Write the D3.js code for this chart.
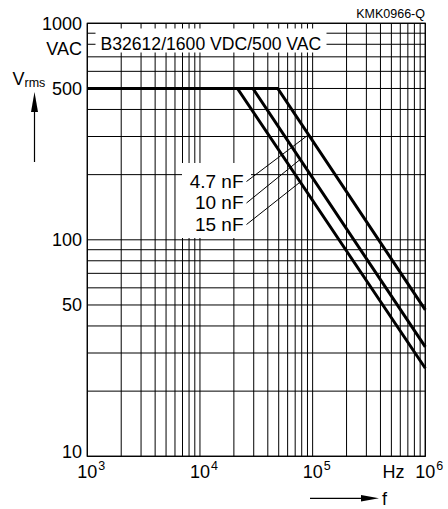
<!DOCTYPE html>
<html><head><meta charset="utf-8">
<script src="https://cdn.jsdelivr.net/npm/d3@7"></script>
<style>body{margin:0;background:#fff} svg{display:block} text{font-family:"Liberation Sans",Arial,sans-serif;fill:#000}</style>
</head><body><svg id="c" width="448" height="509"></svg>
<script>
// ---- data ----
const xTickValues = [1e3, 1e4, 1e5, 1e6];
const xTickExponents = ["3", "4", "5", "6"];
const yTickValues = [1000, 500, 100, 50, 10];
const yTickLabels = ["1000", "500", "100", "50", "10"];
const seriesNames = ["4.7 nF", "10 nF", "15 nF"];
const seriesFreq = [[1e3, 49000, 1e6], [1e3, 29500, 1e6], [1e3, 21500, 1e6]];
const seriesVolt = [[500, 500, 47.5], [500, 500, 32], [500, 500, 25.5]];
const leaderFreq = [92000, 77600, 77600];
const titleText = "B32612/1600 VDC/500 VAC";
const codeText = "KMK0966-Q";

// ---- layout ----
const svg = d3.select("#c");
const L = 87.3, R = 425.3, T = 23.3, B = 456.3;
const x = d3.scaleLog().domain([1e3, 1e6]).range([L, R]);
const y = d3.scaleLog().domain([10, 1000]).range([B, T]);

// grid values
const xGrid = [];
[1e3, 1e4, 1e5].forEach(d => { for (let k = 1; k <= 9; k++) xGrid.push(k * d); });
xGrid.push(1e6);
const yGrid = [];
[10, 100].forEach(d => { for (let k = 1; k <= 9; k++) yGrid.push(k * d); });
yGrid.push(1000);

const g = svg.append("g");
g.selectAll("line.vx").data(xGrid).enter().append("line")
  .attr("x1", d => x(d)).attr("x2", d => x(d)).attr("y1", T).attr("y2", B)
  .attr("stroke", "#000").attr("stroke-width", 1);
g.selectAll("line.hy").data(yGrid).enter().append("line")
  .attr("y1", d => y(d)).attr("y2", d => y(d)).attr("x1", L).attr("x2", R)
  .attr("stroke", "#000").attr("stroke-width", 1);
g.append("rect").attr("x", L).attr("y", T).attr("width", R - L).attr("height", B - T)
  .attr("fill", "none").attr("stroke", "#000").attr("stroke-width", 1.2);

// white boxes
svg.append("rect").attr("x", 95.5).attr("y", 28.5).attr("width", 231).attr("height", 24).attr("fill", "#fff");
svg.append("rect").attr("x", 182).attr("y", 163).attr("width", 69).attr("height", 75).attr("fill", "#fff");

// curves
const line = d3.line().x(d => x(d[0])).y(d => y(d[1]));
seriesNames.forEach((n, i) => {
  const pts = seriesFreq[i].map((f, j) => [f, seriesVolt[i][j]]);
  svg.append("path").attr("d", line(pts)).attr("fill", "none")
    .attr("stroke", "#000").attr("stroke-width", 3).attr("stroke-linejoin", "miter");
});

// interpolate value on series (log-log)
function valueAt(i, f) {
  const fs = seriesFreq[i], vs = seriesVolt[i];
  for (let j = 0; j < fs.length - 1; j++) {
    if (f >= fs[j] && f <= fs[j + 1]) {
      const t = (Math.log(f) - Math.log(fs[j])) / (Math.log(fs[j + 1]) - Math.log(fs[j]));
      return Math.exp(Math.log(vs[j]) + t * (Math.log(vs[j + 1]) - Math.log(vs[j])));
    }
  }
  return vs[vs.length - 1];
}

// labels + leaders
const labelRight = 243.5, labelBase0 = 187.5, labelStep = 21.5;
seriesNames.forEach((n, i) => {
  const by = labelBase0 + i * labelStep;
  svg.append("text").attr("x", labelRight).attr("y", by).attr("text-anchor", "end")
    .attr("font-size", 19).text(n);
  const f = leaderFreq[i];
  svg.append("line").attr("x1", labelRight + 3).attr("y1", by - 6)
    .attr("x2", x(f)).attr("y2", y(valueAt(i, f)))
    .attr("stroke", "#000").attr("stroke-width", 1);
});

// title
svg.append("text").attr("x", 100.5).attr("y", 49.5).attr("font-size", 17.6).text(titleText);
svg.append("text").attr("x", 425).attr("y", 18.3).attr("text-anchor", "end").attr("font-size", 12.5).text(codeText);

// y labels
yTickValues.forEach((v, i) => {
  const off = v === 10 ? 2 : 6.5;
  svg.append("text").attr("x", 82).attr("y", y(v) + off).attr("text-anchor", "end")
    .attr("font-size", 18).text(yTickLabels[i]);
});
svg.append("text").attr("x", 82).attr("y", 55).attr("text-anchor", "end").attr("font-size", 18).text("VAC");
const vt = svg.append("text").attr("x", 12.5).attr("y", 85).attr("font-size", 18);
vt.append("tspan").text("V");
vt.append("tspan").attr("font-size", 12.5).attr("dy", 2).text("rms");
// up arrow
svg.append("line").attr("x1", 34.5).attr("x2", 34.5).attr("y1", 162).attr("y2", 108).attr("stroke", "#000").attr("stroke-width", 1.2);
svg.append("path").attr("d", "M34.5,92 L31,112 L38,112 Z").attr("fill", "#000");

// x labels
xTickValues.forEach((v, i) => {
  const t = svg.append("text").attr("x", x(v) - 10).attr("y", 478).attr("font-size", 18);
  t.append("tspan").text("10");
  t.append("tspan").attr("font-size", 12.5).attr("dx", 1).attr("dy", -8).text(xTickExponents[i]);
});
svg.append("text").attr("x", 382.5).attr("y", 478).attr("font-size", 18).text("Hz");
svg.append("text").attr("x", 382).attr("y", 505).attr("font-size", 18).text("f");
svg.append("line").attr("x1", 310).attr("x2", 365).attr("y1", 498.3).attr("y2", 498.3).attr("stroke", "#000").attr("stroke-width", 1.2);
svg.append("path").attr("d", "M379,498.3 L361,495 L361,501.6 Z").attr("fill", "#000");
</script></body></html>
